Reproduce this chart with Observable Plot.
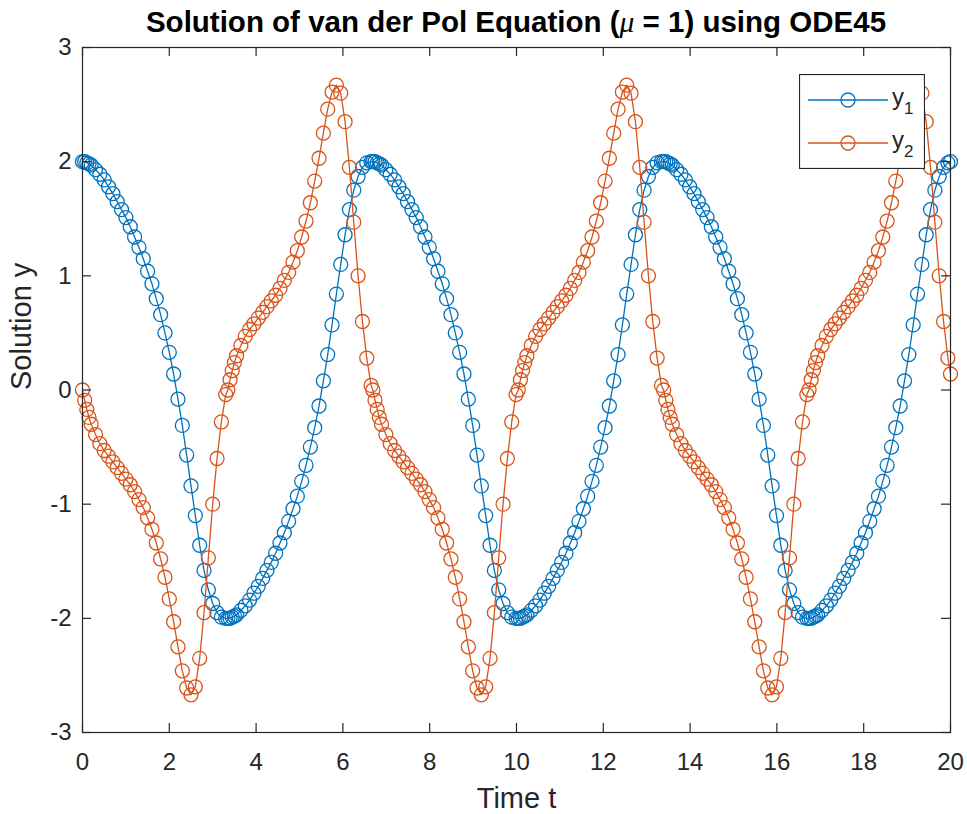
<!DOCTYPE html>
<html><head><meta charset="utf-8">
<script src="https://cdn.jsdelivr.net/npm/d3@7"></script>
<script src="https://cdn.jsdelivr.net/npm/@observablehq/plot@0.6"></script>
<style>
body{margin:0;background:#fff;font-family:"Liberation Sans",Arial,Helvetica,sans-serif;}
#wrap{position:relative;width:967px;height:814px;}
#title{position:absolute;left:0;top:0;width:967px;height:44px;box-sizing:border-box;padding-left:82px;padding-right:17px;text-align:center;font-weight:bold;font-size:29.5px;line-height:44px;color:#000;white-space:nowrap;z-index:2;}
#title i{font-family:"Liberation Serif",serif;font-weight:normal;}
#chart{position:absolute;left:0;top:0;}
#legend{position:absolute;left:799px;top:74px;z-index:3;}
</style></head><body>
<div id="wrap">
<div id="chart"></div>
<div id="title">Solution of van der Pol Equation (<i>μ</i> = 1) using ODE45</div>
<div id="legend"></div>
</div>
<script>
const t = [0,0.05,0.1,0.15,0.2,0.3,0.4,0.5,0.6,0.7,0.8,0.9,1,1.1,1.2,1.3,1.4,1.5,1.6,1.7,1.8,1.9,2,2.1,2.2,2.3,2.4,2.5,2.6,2.7,2.8,2.9,3,3.1,3.2,3.3,
3.35,3.4,3.45,3.5,3.55,3.65,3.75,3.85,3.95,4.05,4.15,4.25,4.35,4.45,4.55,4.65,4.75,4.85,4.95,5.05,5.15,5.25,5.35,5.45,5.55,5.65,5.75,5.85,5.95,6.05,6.15,6.25,6.35,6.45,6.55,6.65,
6.69,6.74,6.79,6.84,6.89,6.99,7.09,7.19,7.29,7.39,7.49,7.59,7.69,7.79,7.89,7.99,8.09,8.19,8.29,8.39,8.49,8.59,8.69,8.79,8.89,8.99,9.09,9.19,9.29,9.39,9.49,9.59,9.69,9.79,9.89,9.99,
10.04,10.09,10.14,10.19,10.24,10.34,10.44,10.54,10.64,10.74,10.84,10.94,11.04,11.14,11.24,11.34,11.44,11.54,11.64,11.74,11.84,11.94,12.04,12.14,12.24,12.34,12.44,12.54,12.64,12.74,12.84,12.94,13.04,13.14,13.24,13.34,
13.39,13.44,13.49,13.54,13.59,13.69,13.79,13.89,13.99,14.09,14.19,14.29,14.39,14.49,14.59,14.69,14.79,14.89,14.99,15.09,15.19,15.29,15.39,15.49,15.59,15.69,15.79,15.89,15.99,16.09,16.19,16.29,16.39,16.49,16.59,16.69,
16.74,16.79,16.84,16.89,16.94,17.04,17.14,17.24,17.34,17.44,17.54,17.64,17.74,17.84,17.94,18.04,18.14,18.24,18.34,18.44,18.54,18.64,18.74,18.84,18.94,19.04,19.14,19.24,19.34,19.44,19.54,19.64,19.74,19.84,19.94,20];

const y1 = [2,2,1.99,1.98,1.97,1.93,1.89,1.84,1.78,1.72,1.65,1.58,1.51,1.43,1.34,1.25,1.15,1.04,0.93,0.8,0.66,0.5,0.33,0.14,-0.08,-0.31,-0.57,-0.84,-1.1,-1.36,-1.58,-1.75,-1.87,-1.95,-1.99,-2,
-2,-2,-1.99,-1.98,-1.97,-1.93,-1.89,-1.84,-1.78,-1.72,-1.65,-1.58,-1.51,-1.43,-1.34,-1.25,-1.15,-1.04,-0.93,-0.8,-0.66,-0.5,-0.33,-0.14,0.08,0.31,0.57,0.84,1.1,1.36,1.58,1.75,1.87,1.95,1.99,2,
2,2,1.99,1.98,1.97,1.93,1.89,1.84,1.78,1.72,1.65,1.58,1.51,1.43,1.34,1.25,1.15,1.04,0.93,0.8,0.66,0.5,0.33,0.14,-0.08,-0.31,-0.57,-0.84,-1.1,-1.36,-1.58,-1.75,-1.87,-1.95,-1.99,-2,
-2,-2,-1.99,-1.98,-1.97,-1.93,-1.89,-1.84,-1.78,-1.72,-1.65,-1.58,-1.51,-1.43,-1.34,-1.25,-1.15,-1.04,-0.93,-0.8,-0.66,-0.5,-0.33,-0.14,0.08,0.31,0.57,0.84,1.1,1.36,1.58,1.75,1.87,1.95,1.99,2,
2,2,1.99,1.98,1.97,1.93,1.89,1.84,1.78,1.72,1.65,1.58,1.51,1.43,1.34,1.25,1.15,1.04,0.93,0.8,0.66,0.5,0.33,0.14,-0.08,-0.31,-0.57,-0.84,-1.1,-1.36,-1.58,-1.75,-1.87,-1.95,-1.99,-2,
-2,-2,-1.99,-1.98,-1.97,-1.93,-1.89,-1.84,-1.78,-1.72,-1.65,-1.58,-1.51,-1.43,-1.34,-1.25,-1.15,-1.04,-0.93,-0.8,-0.66,-0.5,-0.33,-0.14,0.08,0.31,0.57,0.84,1.1,1.36,1.58,1.75,1.87,1.95,1.99,2];

const y2 = [0,-0.09,-0.17,-0.24,-0.3,-0.39,-0.47,-0.53,-0.58,-0.63,-0.68,-0.73,-0.78,-0.83,-0.89,-0.96,-1.03,-1.12,-1.22,-1.34,-1.48,-1.64,-1.83,-2.03,-2.25,-2.46,-2.61,-2.67,-2.6,-2.35,-1.95,-1.47,-1,-0.6,-0.28,-0.04,
0,0.09,0.17,0.24,0.3,0.39,0.47,0.53,0.58,0.63,0.68,0.73,0.78,0.83,0.89,0.96,1.03,1.12,1.22,1.34,1.48,1.64,1.83,2.03,2.25,2.46,2.61,2.67,2.6,2.35,1.95,1.47,1,0.6,0.28,0.04,
0,-0.09,-0.17,-0.24,-0.3,-0.39,-0.47,-0.53,-0.58,-0.63,-0.68,-0.73,-0.78,-0.83,-0.89,-0.96,-1.03,-1.12,-1.22,-1.34,-1.48,-1.64,-1.83,-2.03,-2.25,-2.46,-2.61,-2.67,-2.6,-2.35,-1.95,-1.47,-1,-0.6,-0.28,-0.04,
0,0.09,0.17,0.24,0.3,0.39,0.47,0.53,0.58,0.63,0.68,0.73,0.78,0.83,0.89,0.96,1.03,1.12,1.22,1.34,1.48,1.64,1.83,2.03,2.25,2.46,2.61,2.67,2.6,2.35,1.95,1.47,1,0.6,0.28,0.04,
0,-0.09,-0.17,-0.24,-0.3,-0.39,-0.47,-0.53,-0.58,-0.63,-0.68,-0.73,-0.78,-0.83,-0.89,-0.96,-1.03,-1.12,-1.22,-1.34,-1.48,-1.64,-1.83,-2.03,-2.25,-2.46,-2.61,-2.67,-2.6,-2.35,-1.95,-1.47,-1,-0.6,-0.28,-0.04,
0,0.09,0.17,0.24,0.3,0.39,0.47,0.53,0.58,0.63,0.68,0.73,0.78,0.83,0.89,0.96,1.03,1.12,1.22,1.34,1.48,1.64,1.83,2.03,2.25,2.46,2.61,2.67,2.6,2.35,1.95,1.47,1,0.6,0.28,0.14];

const xTicks = [0,2,4,6,8,10,12,14,16,18,20];
const yTicks = [-3,-2,-1,0,1,2,3];
const seriesNames = ["y1","y2"];
const seriesColors = ["#0072BD","#D95319"];
const xLabel = "Time t";
const yLabel = "Solution y";

const rows = t.map((tt,i) => ({t: tt, y1: y1[i], y2: y2[i]}));

const W = 967, H = 814, mL = 82, mR = 17, mT = 47, mB = 82;
const fw = W - mL - mR, fh = H - mT - mB, tick = 9;
const axisColor = "#262626";
const fmt = d => String(d);

const chart = Plot.plot({
  width: W, height: H,
  marginLeft: mL, marginRight: mR, marginTop: mT, marginBottom: mB,
  style: {fontFamily: '"Liberation Sans", Arial, Helvetica, sans-serif', fontSize: "24px", color: axisColor, background: "#fff", overflow: "visible"},
  x: {domain: [0, 20], ticks: xTicks, tickSize: 0, tickPadding: 20, tickFormat: fmt, label: null},
  y: {domain: [-3, 3], ticks: yTicks, tickSize: 0, tickPadding: 11, tickFormat: fmt, label: null},
  marks: [
    Plot.line(rows, {x: "t", y: "y1", stroke: seriesColors[0], strokeWidth: 1.3}),
    Plot.dot(rows, {x: "t", y: "y1", r: 7, stroke: seriesColors[0], fill: "none", strokeWidth: 1.3}),
    Plot.line(rows, {x: "t", y: "y2", stroke: seriesColors[1], strokeWidth: 1.3}),
    Plot.dot(rows, {x: "t", y: "y2", r: 7, stroke: seriesColors[1], fill: "none", strokeWidth: 1.3}),
    Plot.ruleX(xTicks, {x: d => d, insetBottom: fh - tick, stroke: axisColor, strokeWidth: 1.2}),
    Plot.ruleX(xTicks, {x: d => d, insetTop: fh - tick, stroke: axisColor, strokeWidth: 1.2}),
    Plot.ruleY(yTicks, {y: d => d, insetRight: fw - tick, stroke: axisColor, strokeWidth: 1.2}),
    Plot.ruleY(yTicks, {y: d => d, insetLeft: fw - tick, stroke: axisColor, strokeWidth: 1.2}),
    Plot.frame({stroke: axisColor, strokeWidth: 1.2}),
    Plot.text([xLabel], {text: d => d, frameAnchor: "bottom", dy: 75, fontSize: 29, fill: axisColor}),
    Plot.text([yLabel], {text: d => d, frameAnchor: "left", dx: -61, rotate: -90, fontSize: 29, fill: axisColor})
  ]
});
document.getElementById("chart").appendChild(chart);

// legend
const lg = d3.select("#legend").append("svg").attr("width", 126).attr("height", 95)
  .style("font-family", '"Liberation Sans", Arial, sans-serif');
lg.append("rect").attr("x", 0.5).attr("y", 0.5).attr("width", 125).attr("height", 94)
  .attr("fill", "#fff").attr("stroke", axisColor).attr("stroke-width", 1.2);
seriesNames.forEach((name, i) => {
  const cy = 26 + i * 43;
  lg.append("line").attr("x1", 9).attr("x2", 89).attr("y1", cy).attr("y2", cy)
    .attr("stroke", seriesColors[i]).attr("stroke-width", 1.3);
  lg.append("circle").attr("cx", 49).attr("cy", cy).attr("r", 7)
    .attr("fill", "none").attr("stroke", seriesColors[i]).attr("stroke-width", 1.3);
  const tx = lg.append("text").attr("x", 93).attr("y", cy + 5).attr("font-size", 24).attr("fill", axisColor);
  tx.append("tspan").text(name[0]);
  tx.append("tspan").attr("font-size", 17).attr("dy", 9).text(name.slice(1));
});
</script>
</body></html>
